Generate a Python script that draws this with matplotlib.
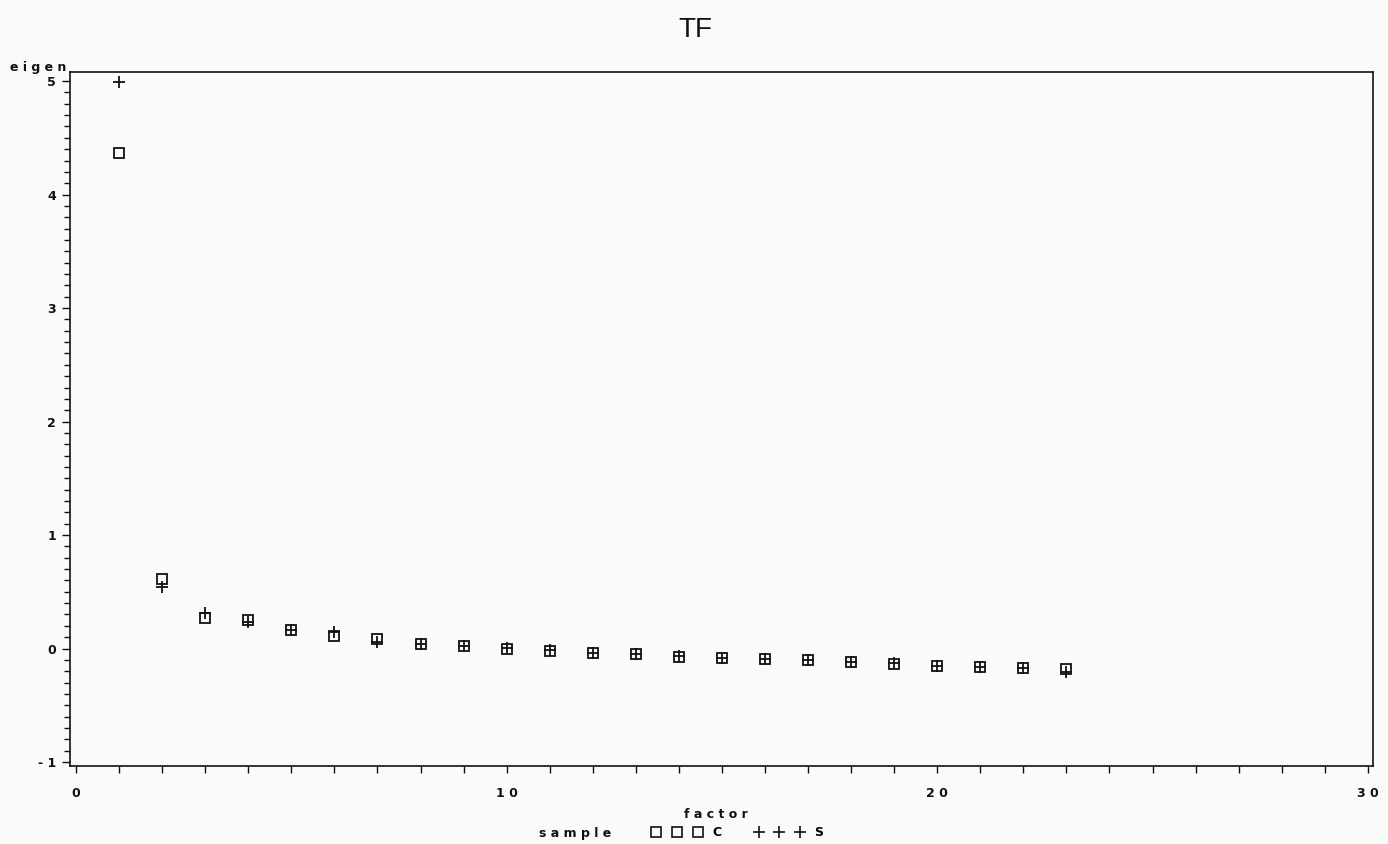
"""
Scree plot of eigenvalues per factor, two samples (C and S), SAS-style.
"""
import matplotlib
matplotlib.use("Agg")
import matplotlib.pyplot as plt
import matplotlib.lines as mlines
from matplotlib.ticker import MultipleLocator

# factor number and eigenvalue for each sample
factor = list(range(1, 24))
eigen_c = [4.37, 0.61, 0.27, 0.25, 0.16, 0.11, 0.08, 0.04, 0.025, 0.0,
           -0.025, -0.04, -0.05, -0.075, -0.08, -0.09, -0.105, -0.115,
           -0.135, -0.15, -0.165, -0.17, -0.18]
eigen_s = [4.99, 0.54, 0.31, 0.23, 0.16, 0.15, 0.06, 0.04, 0.025, 0.005,
           -0.015, -0.04, -0.05, -0.065, -0.08, -0.095, -0.105, -0.115,
           -0.13, -0.15, -0.165, -0.17, -0.21]

x_ticks = [0, 10, 20, 30]
x_labels = ["0", "1 0", "2 0", "3 0"]
y_ticks = [-1, 0, 1, 2, 3, 4, 5]
y_labels = ["- 1", "0", "1", "2", "3", "4", "5"]

BG = "#f9fbfa"
INK = "#111111"
lab_font = dict(family="DejaVu Sans", fontsize=9, fontweight="bold", color=INK)

fig = plt.figure(figsize=(13.88, 8.44), dpi=100, facecolor=BG)
ax = fig.add_axes([70 / 1388, 78 / 844, 1303 / 1388, 694 / 844], facecolor=BG)

ax.plot(factor, eigen_c, linestyle="none", marker="s", markersize=7.5,
        markerfacecolor="none", markeredgecolor=INK, markeredgewidth=1.3)
ax.plot(factor, eigen_s, linestyle="none", marker="+", markersize=8.5,
        color=INK, markeredgewidth=1.3)

ax.set_xlim(-0.14, 30.12)
ax.set_ylim(-1.035, 5.08)

ax.xaxis.set_minor_locator(MultipleLocator(1))
ax.yaxis.set_minor_locator(MultipleLocator(0.1))
ax.set_xticks(x_ticks)
ax.set_xticklabels(x_labels, **lab_font)
ax.set_yticks(y_ticks)
ax.set_yticklabels(y_labels, **lab_font)
ax.tick_params(axis="both", which="both", direction="out", color=INK, width=1.0)
ax.tick_params(axis="x", which="both", length=5, pad=10)
ax.tick_params(axis="y", which="major", length=6, pad=4)
ax.tick_params(axis="y", which="minor", length=4)
for spine in ax.spines.values():
    spine.set_color(INK)
    spine.set_linewidth(1.2)

fig.text(695 / 1388, 1 - 30 / 844, "TF", ha="center", va="center",
         family="Liberation Sans", fontsize=20, color=INK)
fig.text(10 / 1388, 1 - 68 / 844, "e i g e n", ha="left", va="center", **lab_font)
fig.text(716 / 1388, 1 - 815 / 844, "f a c t o r", ha="center", va="center", **lab_font)
fig.text(575 / 1388, 1 - 833 / 844, "s a m p l e", ha="center", va="center", **lab_font)

handles = [
    mlines.Line2D([], [], linestyle="none", marker="s", markersize=7,
                  markerfacecolor="none", markeredgecolor=INK,
                  markeredgewidth=1.2, label="C"),
    mlines.Line2D([], [], linestyle="none", marker="+", markersize=8,
                  color=INK, markeredgewidth=1.2, label="S"),
]
leg = fig.legend(handles=handles, loc="center", ncol=2, numpoints=3,
                 handlelength=3.9, handletextpad=0.85, columnspacing=2.7,
                 frameon=False, prop=dict(family="DejaVu Sans", size=9, weight="bold"),
                 bbox_to_anchor=(738 / 1388, 1 - 833 / 844))

fig.savefig("out.png", dpi=100, facecolor=BG)
